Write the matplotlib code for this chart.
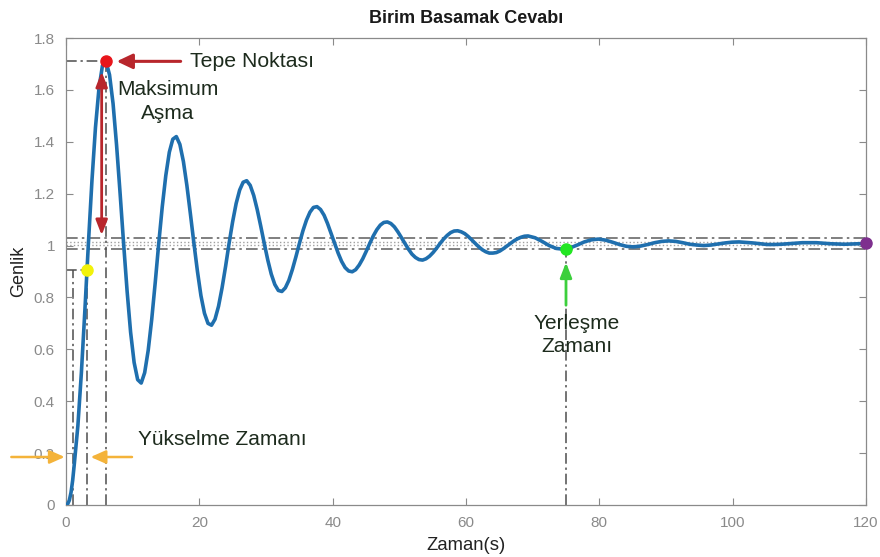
import matplotlib
matplotlib.use("Agg")
import matplotlib.pyplot as plt

plt.rcParams['font.family'] = ['Liberation Sans', 'DejaVu Sans']

# step response (time in s, amplitude)
time_s = [
    0.0, 0.25, 0.5, 0.75, 1.0,
    1.25, 1.78, 2.31, 2.84, 3.36, 3.89, 4.42, 4.95, 5.47,
    6.00, 6.53, 7.06, 7.58, 8.11, 8.64, 9.17, 9.69, 10.22, 10.75,
    11.28, 11.80, 12.33, 12.86, 13.39, 13.91, 14.44, 14.97, 15.50, 16.02,
    16.55, 17.08, 17.61, 18.13, 18.66, 19.19, 19.72, 20.24, 20.77, 21.30,
    21.83, 22.35, 22.88, 23.41, 23.94, 24.46, 24.99, 25.52, 26.05, 26.57,
    27.10, 27.63, 28.16, 28.68, 29.21, 29.74, 30.27, 30.79, 31.32, 31.85,
    32.38, 32.90, 33.43, 33.96, 34.49, 35.01, 35.54, 36.07, 36.60, 37.12,
    37.65, 38.18, 38.71, 39.23, 39.76, 40.29, 40.82, 41.34, 41.87, 42.40,
    42.93, 43.45, 43.98, 44.51, 45.04, 45.56, 46.09, 46.62, 47.15, 47.67,
    48.20, 48.73, 49.26, 49.78, 50.31, 50.84, 51.37, 51.89, 52.42, 52.95,
    53.48, 54.00, 54.53, 55.06, 55.59, 56.11, 56.64, 57.17, 57.70, 58.22,
    58.75, 59.28, 59.81, 60.33, 60.86, 61.39, 61.92, 62.44, 62.97, 63.50,
    64.03, 64.55, 65.08, 65.61, 66.14, 66.66, 67.19, 67.72, 68.25, 68.77,
    69.30,
    70.36, 71.41, 72.47, 73.52, 74.58, 75.63, 76.69, 77.74, 78.80, 79.85,
    80.91, 81.96, 83.02, 84.07, 85.13, 86.18, 87.24, 88.29, 89.35, 90.40,
    91.46, 92.51, 93.57, 94.62, 95.68, 96.73, 97.79, 98.84, 99.90, 100.95,
    102.01, 103.06, 104.12, 105.17, 106.23, 107.28, 108.34, 109.39, 110.45, 111.50,
    112.56, 113.61, 114.67, 115.72, 116.78, 117.83, 118.89,
    120.0,
]
genlik = [
    0.000, 0.004, 0.018, 0.048, 0.095,
    0.159, 0.305, 0.511, 0.754, 1.008, 1.249, 1.455, 1.607, 1.694,
    1.710, 1.658, 1.547, 1.389, 1.203, 1.008, 0.823, 0.666, 0.549, 0.483,
    0.470, 0.510, 0.596, 0.716, 0.859, 1.008, 1.150, 1.270, 1.360, 1.410,
    1.420, 1.390, 1.324, 1.232, 1.122, 1.008, 0.900, 0.807, 0.739, 0.700,
    0.693, 0.716, 0.766, 0.837, 0.920, 1.008, 1.091, 1.162, 1.214, 1.244,
    1.250, 1.232, 1.193, 1.139, 1.075, 1.008, 0.944, 0.890, 0.850, 0.827,
    0.823, 0.837, 0.866, 0.908, 0.957, 1.008, 1.057, 1.098, 1.129, 1.147,
    1.150, 1.139, 1.117, 1.085, 1.047, 1.008, 0.971, 0.939, 0.915, 0.902,
    0.899, 0.907, 0.925, 0.949, 0.978, 1.008, 1.037, 1.061, 1.079, 1.089,
    1.091, 1.085, 1.072, 1.053, 1.031, 1.008, 0.986, 0.967, 0.954, 0.946,
    0.944, 0.949, 0.959, 0.973, 0.990, 1.008, 1.025, 1.039, 1.050, 1.056,
    1.057, 1.053, 1.046, 1.035, 1.022, 1.008, 0.995, 0.984, 0.976, 0.971,
    0.971, 0.973, 0.979, 0.988, 0.998, 1.008, 1.018, 1.026, 1.032, 1.036,
    1.037,
    1.030, 1.016, 1.000, 0.989, 0.986, 0.991, 1.002, 1.014, 1.022, 1.025,
    1.021, 1.013, 1.004, 0.997, 0.995, 0.998, 1.004, 1.011, 1.016, 1.018,
    1.016, 1.011, 1.005, 1.002, 1.000, 1.002, 1.006, 1.010, 1.013, 1.014,
    1.012, 1.010, 1.007, 1.004, 1.004, 1.005, 1.007, 1.009, 1.011, 1.011,
    1.011, 1.009, 1.007, 1.006, 1.005, 1.006, 1.007,
    1.008,
]

# characteristic points
peak_t, peak_y = 6.0, 1.710
rise_t = [1.05, 3.15]
rise_y = 0.907
settle_t, settle_y = 75.0, 0.987
final_t, final_y = 120.0, 1.008
band_outer = [0.988, 1.028]
band_inner = [1.003, 1.013]

x_ticks = [0, 20, 40, 60, 80, 100, 120]
y_ticks = [0, 0.2, 0.4, 0.6, 0.8, 1.0, 1.2, 1.4, 1.6, 1.8]

fig = plt.figure(figsize=(8.8, 5.57), dpi=100)
ax = fig.add_axes([66 / 880, 52 / 557, 800 / 880, 467 / 557])

dashdot = (0, (7, 2.5, 1.5, 2.5))
gray = '#4d4d4d'
text_col = '#1d2b1d'

for yb in band_outer:
    ax.plot([0, 120], [yb, yb], color='#6a6a6a', lw=1.2, ls=dashdot, zorder=1)
for yb in band_inner:
    ax.plot([0, 120], [yb, yb], color='#a0a0a0', lw=1.0, ls=':', zorder=1)

# peak guide lines
ax.plot([0, peak_t], [peak_y, peak_y], color=gray, lw=1.1, ls=dashdot, zorder=1)
ax.plot([peak_t, peak_t], [0, peak_y], color=gray, lw=1.1, ls=dashdot, zorder=1)
# rise time guide lines
ax.plot([0, rise_t[1]], [rise_y, rise_y], color=gray, lw=1.1, ls=dashdot, zorder=1)
for rt in rise_t:
    ax.plot([rt, rt], [0, rise_y], color=gray, lw=1.1, ls=dashdot, zorder=1)
# settling time guide line
ax.plot([settle_t, settle_t], [0, settle_y], color=gray, lw=1.1, ls=dashdot, zorder=1)

ax.plot(time_s, genlik, color='#1f6fae', lw=2.6, zorder=3,
        solid_capstyle='round', solid_joinstyle='round')

ax.plot(peak_t, peak_y, 'o', color='#e8151b', ms=8, zorder=5)
ax.plot(rise_t[1], rise_y, 'o', color='#f2f20a', ms=8, zorder=5)
ax.plot(settle_t, settle_y, 'o', color='#22e622', ms=8, zorder=5)
ax.plot(final_t, final_y, 'o', color='#7e2f8e', ms=8, zorder=5, clip_on=False)

# arrows
red = '#b8262c'
ax.annotate('', xy=(7.6, peak_y), xytext=(17.2, peak_y),
            arrowprops=dict(arrowstyle='-|>,head_length=0.95,head_width=0.45',
                            color=red, lw=2.2, shrinkA=0, shrinkB=0), zorder=6)
ax.annotate('', xy=(5.35, 1.04), xytext=(5.35, 1.67),
            arrowprops=dict(arrowstyle='<|-|>,head_length=0.9,head_width=0.35',
                            color=red, lw=2.0, shrinkA=0, shrinkB=0), zorder=6)
orange = '#f4b33a'
ax.annotate('', xy=(-0.2, 0.185), xytext=(-8.2, 0.185), annotation_clip=False,
            arrowprops=dict(arrowstyle='-|>,head_length=0.9,head_width=0.4',
                            color=orange, lw=1.8, shrinkA=0, shrinkB=0), zorder=6)
ax.annotate('', xy=(3.7, 0.185), xytext=(9.9, 0.185),
            arrowprops=dict(arrowstyle='-|>,head_length=0.9,head_width=0.4',
                            color=orange, lw=1.8, shrinkA=0, shrinkB=0), zorder=6)
ax.annotate('', xy=(settle_t, 0.935), xytext=(settle_t, 0.77),
            arrowprops=dict(arrowstyle='-|>,head_length=0.9,head_width=0.35',
                            color='#3ccf3c', lw=2.0, shrinkA=0, shrinkB=0), zorder=6)

# labels
ax.text(18.6, peak_y, 'Tepe Noktası', fontsize=15.3, color=text_col,
        ha='left', va='center')
ax.text(15.3, 1.555, 'Maksimum\nAşma', fontsize=15, color=text_col,
        ha='center', va='center', linespacing=1.3)
ax.text(10.8, 0.251, 'Yükselme Zamanı', fontsize=15, color=text_col,
        ha='left', va='center')
ax.text(76.6, 0.656, 'Yerleşme\nZamanı', fontsize=15, color=text_col,
        ha='center', va='center', linespacing=1.3)

ax.set_xlim(0, 120)
ax.set_ylim(0, 1.8)
ax.set_xticks(x_ticks)
ax.set_yticks(y_ticks)
ax.set_yticklabels([f'{v:g}' for v in y_ticks])
ax.tick_params(direction='in', top=True, right=True, length=5, width=0.8,
               colors='#8a8a8a', labelsize=11, pad=8)
ax.tick_params(axis='y', pad=8)
for sp in ax.spines.values():
    sp.set_color('#8a8a8a')
    sp.set_linewidth(0.9)

ax.set_title('Birim Basamak Cevabı', fontsize=13, fontweight='bold',
             color='#1a1a1a', pad=11)
ax.set_xlabel('Zaman(s)', fontsize=13.3, color='#222222', labelpad=5)
ax.set_ylabel('Genlik', fontsize=13, color='#222222', labelpad=5)

fig.savefig('out.png', dpi=100)
